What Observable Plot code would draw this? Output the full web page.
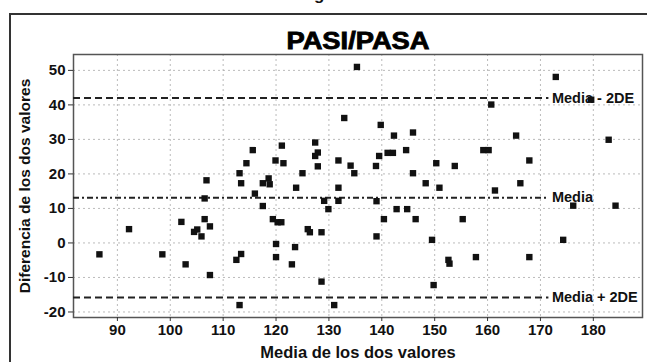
<!DOCTYPE html>
<html>
<head>
<meta charset="utf-8">
<script src="https://cdn.jsdelivr.net/npm/d3@7"></script>
<script src="https://cdn.jsdelivr.net/npm/@observablehq/plot@0.6"></script>
<style>
  body { margin: 0; background: white; }
  #wrap { position: relative; width: 647px; height: 362px; overflow: hidden; background: white; }
  #chart { position: absolute; left: 0; top: 0; }
  #outer { position: absolute; left: 9px; top: 13px; width: 700px; height: 400px; border: 2px solid #333; pointer-events: none; }
  #cut { position: absolute; left: 314px; top: -15px; font: bold 17px "Liberation Sans", Arial, sans-serif; color: #111; }
</style>
</head>
<body>
<div id="wrap">
  <div id="chart"></div>
  <div id="outer"></div>
  <div id="cut">g</div>
</div>
<script>
// Mean of the two values (x) and difference of the two values (y)
const meanValues = [86.6, 92.2, 98.5, 102.1, 102.9, 104.5, 105.1, 105.9, 106.5, 106.5, 106.85, 107.5, 107.5,
  112.5, 113.1, 113.1, 113.4, 113.4, 114.4, 115.6, 116.0, 117.5, 117.5, 118.6, 118.8, 119.4, 119.9, 120.0, 120.0,
  120.3, 121.0, 121.1, 121.4, 123.0, 123.6, 123.8, 125.0, 126.0, 126.4, 127.4, 127.9, 127.4, 127.9, 128.6, 128.6,
  129.1, 129.9, 131.0, 131.8, 131.8, 131.8, 132.9, 134.1, 134.8, 135.3, 138.9, 139.0, 139.0, 139.5, 139.8, 140.4,
  141.1, 142.1, 142.3, 142.8, 144.6, 144.8, 145.9, 145.9, 146.4, 148.3, 149.5, 149.8, 150.3, 150.9, 152.6, 152.8,
  153.8, 155.3, 157.8, 159.2, 160.2, 160.7, 161.4, 165.4, 166.2, 167.9, 167.9, 172.9, 174.3, 176.2, 179.6, 182.9, 184.2];
const diffValues = [-3.3, 4.0, -3.3, 6.1, -6.2, 3.2, 3.9, 1.9, 6.9, 12.9, 18.15, 4.8, -9.3,
  -4.9, 20.2, -18.0, 17.3, -3.2, 23.1, 26.9, 14.3, 17.3, 10.7, 18.7, 17.0, 6.9, 23.9, -0.3, -4.1,
  6.0, 6.0, 28.2, 23.1, -6.2, -1.2, 16.0, 20.2, 4.0, 3.1, 29.1, 26.2, 25.2, 22.2, 3.1, -11.2,
  12.2, 9.8, -18.0, 23.9, 16.0, 12.2, 36.2, 22.4, 20.2, 51.0, 22.3, 12.1, 1.9, 25.2, 34.2, 6.9,
  26.1, 26.1, 31.1, 9.8, 26.9, 9.8, 32.0, 20.2, 6.9, 17.3, 0.9, -12.2, 23.1, 16.0, -4.9, -6.0,
  22.3, 6.9, -4.1, 26.9, 26.9, 40.1, 15.2, 31.1, 17.3, 23.9, -4.1, 48.1, 0.9, 10.8, 41.5, 29.9, 10.8];

// Reference lines
const refLabels = ["Media - 2DE", "Media", "Media + 2DE"];
const refValues = [42.0, 13.1, -15.8];
const refDashes = ["7,4", "6,3,2,3", "7,4"];
const labelX = 171.6;

const xTicks = [90, 100, 110, 120, 130, 140, 150, 160, 170, 180];
const yTicks = [-20, -10, 0, 10, 20, 30, 40, 50];
const xDomain = [81.7, 189.3];
const yDomain = [-21.6, 54.6];

const titleText = "PASI/PASA";
const xLabel = "Media de los dos valores";
const yLabel = "Diferencia de los dos valores";

const points = meanValues.map((m, i) => ({m, d: diffValues[i]}));
const refs = refLabels.map((label, i) => ({label, value: refValues[i], dash: refDashes[i]}));

const fontFamily = '"Liberation Sans", Arial, sans-serif';

const chart = Plot.plot({
  width: 647,
  height: 362,
  marginLeft: 73,
  marginRight: 5,
  marginTop: 54,
  marginBottom: 45,
  style: {background: "transparent", fontFamily, fontWeight: "bold", color: "#111", overflow: "visible"},
  x: {domain: xDomain, label: null},
  y: {domain: yDomain, label: null},
  marks: [
    Plot.gridX(xTicks, {stroke: "#aaa", strokeOpacity: 0.8, strokeDasharray: "2,3"}),
    Plot.gridY(yTicks, {stroke: "#aaa", strokeOpacity: 0.8, strokeDasharray: "2,3"}),
    Plot.frame({stroke: "#555", strokeWidth: 1.5}),
    Plot.axisX({ticks: xTicks, tickSize: 4, tickPadding: 3, fontSize: 15, fontWeight: "bold", tickFormat: d => String(d), stroke: "#333"}),
    Plot.axisY({ticks: yTicks, tickSize: 5, tickPadding: 3, fontSize: 15, fontWeight: "bold", tickFormat: d => String(d), stroke: "#333"}),
    ...refs.map(r => Plot.ruleY([r], {y: "value", x1: xDomain[0], x2: labelX, stroke: "#222", strokeWidth: 2, strokeDasharray: r.dash})),
    Plot.text(refs, {x: () => labelX, y: "value", text: "label", textAnchor: "start", dx: 3, fontSize: 14.5, fontWeight: "bold", fill: "#111"}),
    Plot.dot(points, {x: "m", y: "d", symbol: "square", r: 3.6, fill: "#111", stroke: null}),
    Plot.text([titleText], {frameAnchor: "top", dy: -22, text: d => d, fontSize: 23, fontWeight: "bold", fill: "#000", className: "ttl"}),
    Plot.text([xLabel], {frameAnchor: "bottom", dy: 40, text: d => d, fontSize: 16.5, fontWeight: "bold", fill: "#111"}),
    Plot.text([yLabel], {frameAnchor: "left", dx: -48, rotate: -90, textAnchor: "middle", text: d => d, fontSize: 15.5, fontWeight: "bold", fill: "#111"})
  ]
});
document.getElementById("chart").appendChild(chart);
d3.select(chart).selectAll("g.ttl text").attr("textLength", 143).attr("lengthAdjust", "spacingAndGlyphs").attr("stroke", "#000").attr("stroke-width", 0.8);
</script>
</body>
</html>
